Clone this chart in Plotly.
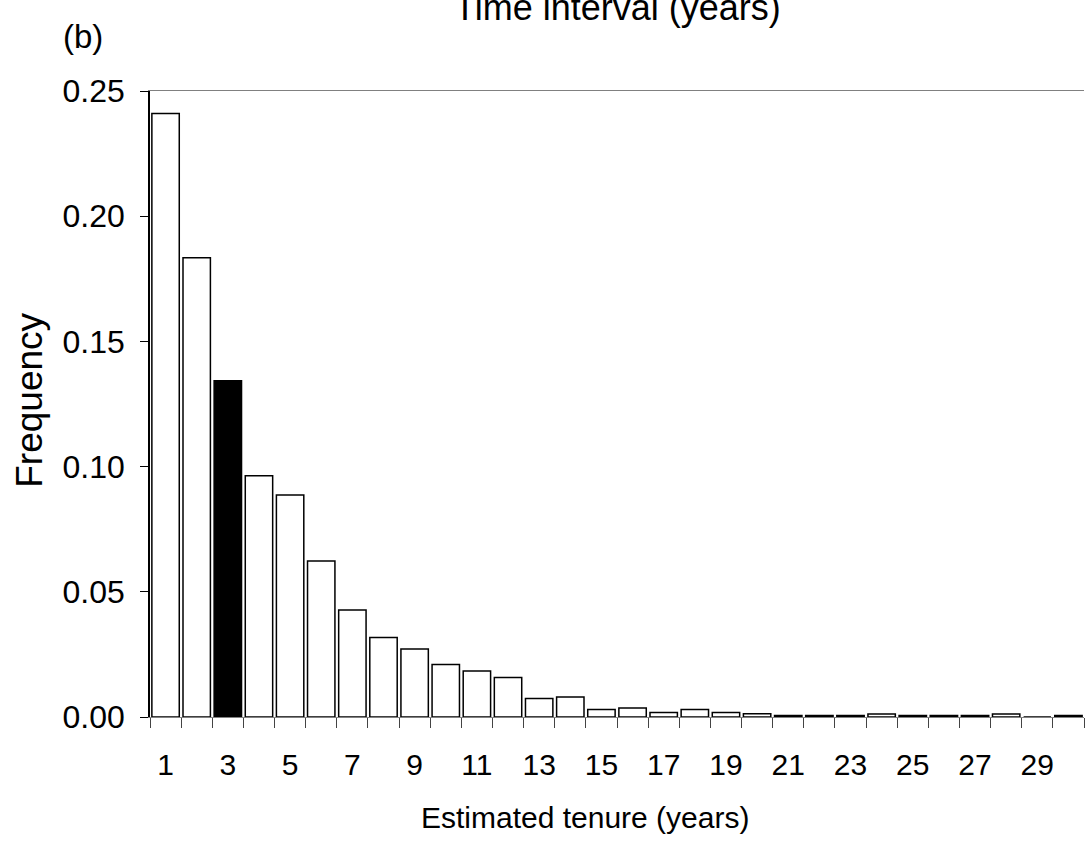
import plotly.graph_objects as go

tenure = list(range(1, 31))
frequency = [0.241, 0.1834, 0.1343, 0.0963, 0.0887, 0.0623, 0.0427, 0.0317,
             0.0272, 0.0210, 0.0184, 0.0158, 0.0074, 0.0080, 0.0030, 0.0036,
             0.0018, 0.0030, 0.0018, 0.0013, 0.0006, 0.0006, 0.0006, 0.0012,
             0.0006, 0.0006, 0.0006, 0.0012, 0.0, 0.0006]
highlight = 3
tick_labels = [str(v) for v in range(1, 30, 2)]
y_ticks = [0, 0.05, 0.10, 0.15, 0.20, 0.25]

FONT = "Arial, Liberation Sans, sans-serif"

colors = ["black" if t == highlight else "white" for t in tenure]

fig = go.Figure()
fig.add_trace(go.Bar(
    x=tenure, y=frequency, width=0.88,
    marker=dict(color=colors, line=dict(color="black", width=1.5)),
    showlegend=False,
))

fig.update_layout(
    width=1087, height=846,
    margin=dict(l=150, r=3, t=91, b=129),
    plot_bgcolor="white", paper_bgcolor="white",
    font=dict(family=FONT, size=28, color="black"),
    xaxis=dict(
        range=[0.5, 30.5], tickmode="array",
        tickvals=list(range(1, 30, 2)), ticktext=tick_labels,
        ticks="", showgrid=False, zeroline=False,
        showline=True, linecolor="#808080", linewidth=1, mirror=True,
        ticklabelstandoff=21,
        tickfont=dict(size=30),
        minor=dict(tickmode="linear", tick0=0.5, dtick=1, ticks="outside",
                   ticklen=10, tickcolor="#444444", tickwidth=1, showgrid=False),
    ),
    yaxis=dict(
        range=[0, 0.25], tickmode="array", tickvals=y_ticks,
        tickformat=".2f", ticks="outside", ticklen=8, tickcolor="black",
        tickwidth=1, showgrid=False, zeroline=False,
        showline=True, linecolor="black", linewidth=1.5,
        ticklabelstandoff=9, tickfont=dict(size=32),
    ),
    annotations=[
        dict(text="Frequency", xref="paper", yref="paper", x=-0.129, y=0.506,
             textangle=-90, showarrow=False, font=dict(size=37),
             xanchor="center", yanchor="middle"),
        dict(text="Estimated tenure (years)", xref="paper", yref="paper",
             x=0.4657, y=-0.161, showarrow=False, font=dict(size=30),
             xanchor="center", yanchor="middle"),
        dict(text="(b)", xref="paper", yref="paper", x=-0.0717, y=1.0863,
             showarrow=False, font=dict(size=33),
             xanchor="center", yanchor="middle"),
        dict(text="Time interval (years)", xref="paper", yref="paper",
             x=0.5, y=1.133, showarrow=False, font=dict(size=36),
             xanchor="center", yanchor="middle"),
    ],
)

fig.write_html("out.html")
